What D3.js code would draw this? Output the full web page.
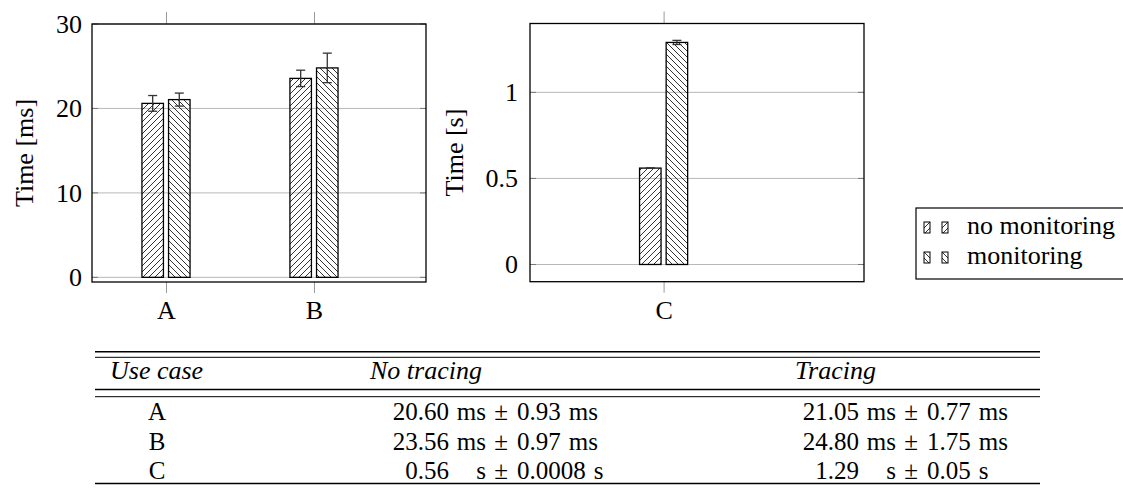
<!DOCTYPE html>
<html>
<head>
<meta charset="utf-8">
<script src="https://cdn.jsdelivr.net/npm/d3@7"></script>
</head>
<body style="margin:0; background:#fff">
<svg id="chart" width="1123" height="494"></svg>
<script>
// values
var categories = ["A", "B", "C"];
var noMon = [20.60, 23.56, 0.56];
var noMonErr = [0.93, 0.97, 0.0008];
var mon = [21.05, 24.80, 1.29];
var monErr = [0.77, 1.75, 0.012];
var leftTicks = [0, 10, 20, 30];
var rightTicks = [0, 0.5, 1];
var seriesNames = ["no monitoring", "monitoring"];

// table text
var tableHead = ["Use case", "No tracing", "Tracing"];
var noTrVal = ["20.60", "23.56", "0.56"];
var noTrUnit = ["ms", "ms", "s"];
var noTrErr = ["0.93", "0.97", "0.0008"];
var trVal = ["21.05", "24.80", "1.29"];
var trUnit = ["ms", "ms", "s"];
var trErr = ["0.77", "1.75", "0.05"];

var svg = d3.select("#chart");
var defs = svg.append("defs");
function hatch(id, d) {
    defs.append("pattern").attr("id", id)
	.attr("patternUnits", "userSpaceOnUse").attr("width", 6).attr("height", 6)
	.append("path").attr("d", d)
	.attr("stroke", "#000").attr("stroke-width", 0.8).attr("fill", "none");
}
hatch("ne", "M-1,1 l2,-2 M0,6 l6,-6 M5,7 l2,-2");
hatch("nw", "M-1,5 l2,2 M0,0 l6,6 M5,-1 l2,2");
var fills = ["url(#ne)", "url(#nw)"];

var barW = 21.5, shift = 13.3;

function panel(cfg) {
    var g = svg.append("g");
    var x = d3.scaleLinear().domain(cfg.xdom).range([cfg.x0, cfg.x1]);
    var y = d3.scaleLinear().domain(cfg.ydom).range([cfg.y1, cfg.y0]);
    var idx = cfg.idx;

    // grid
    g.selectAll(".grid").data(cfg.ticks).enter().append("line")
	.attr("x1", cfg.x0).attr("x2", cfg.x1)
	.attr("y1", d => y(d)).attr("y2", d => y(d))
	.attr("stroke", "#b8b8b8").attr("stroke-width", 1);
    // inner y ticks both sides
    [[cfg.x0, 6], [cfg.x1, -6]].forEach(function(p) {
	g.selectAll(null).data(cfg.ticks).enter().append("line")
	    .attr("x1", p[0]).attr("x2", p[0] + p[1])
	    .attr("y1", d => y(d)).attr("y2", d => y(d))
	    .attr("stroke", "#777").attr("stroke-width", 1);
    });

    // y labels
    var ya = d3.axisLeft(y).tickValues(cfg.ticks).tickSize(0).tickPadding(cfg.pad)
	.tickFormat(d3.format("~g"));
    var yg = g.append("g").attr("transform", "translate(" + cfg.x0 + ",0)").call(ya)
	.attr("font-size", 26);
    yg.select(".domain").remove();
    yg.selectAll("text").attr("fill", "#000");

    // x ticks top/bottom outside
    var xa = d3.axisBottom(x).tickValues(idx).tickSize(11).tickPadding(8)
	.tickFormat(i => categories[i]);
    var xg = g.append("g").attr("transform", "translate(0," + cfg.y1 + ")").call(xa)
	.attr("font-size", 26);
    xg.select(".domain").remove();
    xg.selectAll("line").attr("stroke", "#999");
    xg.selectAll("text").attr("fill", "#000");
    var xt = g.append("g").attr("transform", "translate(0," + cfg.y0 + ")")
	.call(d3.axisTop(x).tickValues(idx).tickSize(12).tickFormat(""));
    xt.select(".domain").remove();
    xt.selectAll("line").attr("stroke", "#999");

    // bars
    [[noMon, noMonErr], [mon, monErr]].forEach(function(s, k) {
	var off = k === 0 ? -shift : shift;
	g.selectAll(null).data(idx).enter().append("rect")
	    .attr("x", i => x(i) + off - barW / 2)
	    .attr("y", i => y(s[0][i]))
	    .attr("width", barW)
	    .attr("height", i => y(0) - y(s[0][i]))
	    .attr("fill", fills[k]).attr("stroke", "#000").attr("stroke-width", 1.3);
	var eb = g.selectAll(null).data(idx).enter().append("g")
	    .attr("stroke", "#333").attr("stroke-width", 1.3);
	eb.append("line")
	    .attr("x1", i => x(i) + off).attr("x2", i => x(i) + off)
	    .attr("y1", i => y(s[0][i] - s[1][i])).attr("y2", i => y(s[0][i] + s[1][i]));
	[-1, 1].forEach(function(sg) {
	    eb.append("line")
		.attr("x1", i => x(i) + off - 4.5).attr("x2", i => x(i) + off + 4.5)
		.attr("y1", i => y(s[0][i] + sg * s[1][i])).attr("y2", i => y(s[0][i] + sg * s[1][i]));
	});
    });

    // frame
    g.append("rect").attr("x", cfg.x0).attr("y", cfg.y0)
	.attr("width", cfg.x1 - cfg.x0).attr("height", cfg.y1 - cfg.y0)
	.attr("fill", "none").attr("stroke", "#000").attr("stroke-width", 1.3);

    // y title
    g.append("text").text(cfg.title)
	.attr("transform", "translate(" + cfg.tx + "," + ((cfg.y0 + cfg.y1) / 2) + ") rotate(-90)")
	.attr("text-anchor", "middle").attr("font-size", 26);
}

panel({ idx: [0, 1], xdom: [-0.5, 1.757], ydom: [-0.55, 30], ticks: leftTicks,
	x0: 92, x1: 426, y0: 24, y1: 282, pad: 10, tx: 33, title: "Time [ms]" });
panel({ idx: [2], xdom: [1.6, 2.6], ydom: [-0.1, 1.4], ticks: rightTicks,
	x0: 530, x1: 864, y0: 23.5, y1: 281.7, pad: 12, tx: 463, title: "Time [s]" });

// legend
var lg = svg.append("g");
lg.append("rect").attr("x", 916).attr("y", 208).attr("width", 220).attr("height", 71)
    .attr("fill", "#fff").attr("stroke", "#000").attr("stroke-width", 1.2);
seriesNames.forEach(function(n, k) {
    var yy = 222 + k * 30;
    [924, 942].forEach(function(xx) {
	lg.append("rect").attr("x", xx).attr("y", yy).attr("width", 6).attr("height", 11)
	    .attr("fill", fills[k]).attr("stroke", "#000").attr("stroke-width", 1);
    });
    lg.append("text").text(n).attr("x", 967).attr("y", yy + 12).attr("font-size", 26);
});

svg.selectAll("text").style("font-family", "'Liberation Serif'");

// table
var tb = svg.append("g").attr("font-size", 25);
function ttext(s, xx, yy, anchor) {
    return tb.append("text").text(s).attr("x", xx).attr("y", yy)
	.attr("text-anchor", anchor || "start")
	.style("font-family", "'Liberation Serif'");
}
var rl = 95, rr = 1040;
[[351.7, 1.5], [357.3, 1], [389.5, 1.5], [396.7, 1], [483.5, 1.5]].forEach(function(r) {
    tb.append("line").attr("x1", rl).attr("x2", rr).attr("y1", r[0]).attr("y2", r[0])
	.attr("stroke", "#000").attr("stroke-width", r[1]);
});
[110, 370, 795].forEach(function(xx, i) {
    ttext(tableHead[i], xx, 379).attr("font-style", "italic").attr("font-size", 26);
});
var rowY = [420, 450, 479];
categories.forEach(function(c, i) { ttext(c, 157, rowY[i], "middle"); });
function valueCol(vals, units, errs, dx) {
    vals.forEach(function(v, i) {
	var yy = rowY[i];
	ttext(v, 859 + dx, yy, "end");
	ttext(units[i], 896 + dx, yy, "end");
	ttext("\u00b1", 911 + dx, yy, "middle");
	var e = ttext(errs[i], 927 + dx, yy);
	ttext(units[i], 927 + dx + e.node().getComputedTextLength() + 8, yy);
    });
}
valueCol(noTrVal, noTrUnit, noTrErr, -410);
valueCol(trVal, trUnit, trErr, 0);
</script>
</body>
</html>
